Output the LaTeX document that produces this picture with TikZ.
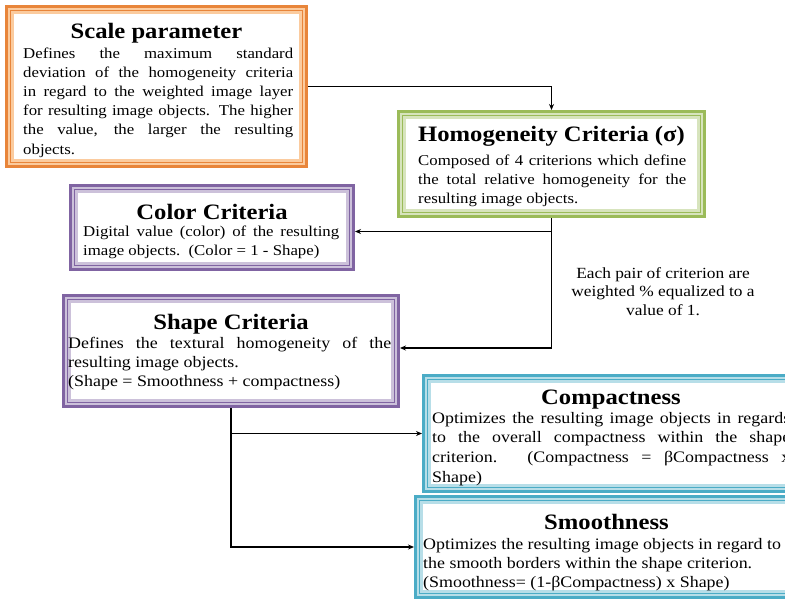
\documentclass[tikz,border=0pt]{standalone}
\usepackage{fontspec}
\setmainfont[FakeStretch=1.12]{Liberation Serif}
\usetikzlibrary{arrows.meta}
\definecolor{orD}{HTML}{E8853A}
\definecolor{orL}{HTML}{FBCB9E}
\definecolor{grD}{HTML}{9BBB59}
\definecolor{grL}{HTML}{D7E4BD}
\definecolor{puD}{HTML}{8064A2}
\definecolor{puL}{HTML}{CCC1DA}
\definecolor{blD}{HTML}{4BACC6}
\definecolor{blL}{HTML}{B7DEE8}
\hyphenpenalty=10000
\exhyphenpenalty=10000
\begin{document}
\begin{tikzpicture}[x=1pt,y=-1pt,
  boxframe/.style n args={3}{draw=#1, line width=6pt,
     inner sep=0pt, minimum width=#2, minimum height=#3},
  ttl/.style={font=\fontsize{22}{24}\selectfont\bfseries, anchor=base, inner sep=0pt},
  body/.style n args={3}{font=\fontsize{#2}{#3}\selectfont, text width=#1, align=justify,
     anchor=base west, inner sep=0pt},
  conn/.style={line width=1.1pt, black, -{Stealth[length=6pt,width=5pt]},
     shorten >=3pt, shorten <=3pt}]
\useasboundingbox (0,0) rectangle (785,598);
\clip (0,0) rectangle (785,598);
\fill[white] (0,0) rectangle (785,598);

% boxes (light band)
\node[boxframe={orL}{291pt}{151pt}] (scale) at (156.5,86.5) {};
\node[boxframe={grL}{297pt}{96pt}] (homo) at (551.5,164) {};
\node[boxframe={puL}{274pt}{75pt}] (color) at (212,227.5) {};
\node[boxframe={puL}{326pt}{102pt}] (shape) at (231,351) {};
\node[boxframe={blL}{369pt}{107pt}] (comp) at (612.5,433.5) {};
\node[boxframe={blL}{377pt}{92pt}] (smooth) at (608.5,547) {};

% dark outer and inner lines of each frame
\foreach \n/\c in {scale/orD, homo/grD, color/puD, shape/puD, comp/blD, smooth/blD}{
  \draw[\c, line width=3pt] ([xshift=-1.5pt,yshift=-1.5pt]\n.south west) rectangle ([xshift=1.5pt,yshift=1.5pt]\n.north east);
  \draw[\c, line width=1pt] ([xshift=2.5pt,yshift=2.5pt]\n.south west) rectangle ([xshift=-2.5pt,yshift=-2.5pt]\n.north east);
}

% titles
\node[ttl] (scaleT) at (156.5,38) {Scale parameter};
\node[ttl] (homoT) at (551.5,141) {Homogeneity Criteria (σ)};
\node[ttl] (colorT) at (212,219) {Color Criteria};
\node[ttl] (shapeT) at (231,329) {Shape Criteria};
\node[ttl] (compT) at (611,404) {Compactness};
\node[ttl] (smoothT) at (606.5,529) {Smoothness};

% bodies
\node[body={270pt}{15}{19.2}] (scaleB) at (23,58)
 {Defines the maximum standard\linebreak deviation of the homogeneity criteria\linebreak
  in regard to the weighted image layer\linebreak for resulting image objects. The higher\linebreak
  the value, the larger the resulting\linebreak objects.};
\node[body={268pt}{15}{19}] (homoB) at (418,165)
 {Composed of 4 criterions which define\linebreak the total relative homogeneity for the\linebreak
  resulting image objects.};
\node[body={256pt}{15}{19}] (colorB) at (83,236)
 {Digital value (color) of the resulting\linebreak image objects.\ \ (Color = 1 - Shape)};
\node[body={323pt}{16}{19}] (shapeB) at (68,348)
 {Defines the textural homogeneity of the\linebreak resulting image objects.\\
  (Shape = Smoothness + compactness)};
\node[body={358pt}{16}{19.8}] (compB) at (432,423)
 {Optimizes the resulting image objects in regards\linebreak to the overall compactness within the shape\linebreak
  criterion. (Compactness = βCompactness x\linebreak Shape)};
\node[body={366pt}{16}{19.2}] (smoothB) at (423,549)
 {Optimizes the resulting image objects in regard to\\ the smooth borders within the shape criterion.\\
  (Smoothness= (1-βCompactness) x Shape)};

% note (base anchor = last line)
\node[font=\fontsize{15.5}{18.5}\selectfont, align=center, anchor=base, inner sep=0pt] (note) at (663,315)
 {Each pair of criterion are\\ weighted \% equalized to a\\ value of 1.};

% connectors
\draw[conn] (scale.east) -| (homo.north);
\draw[conn] (homo.south) |- ([yshift=-4pt]color.east);
\draw[conn] (homo.south) |- ([yshift=3pt]shape.east);
\draw[conn] (shape.south) |- (comp.west);
\draw[conn] (shape.south) |- (smooth.west);
\end{tikzpicture}
\end{document}
